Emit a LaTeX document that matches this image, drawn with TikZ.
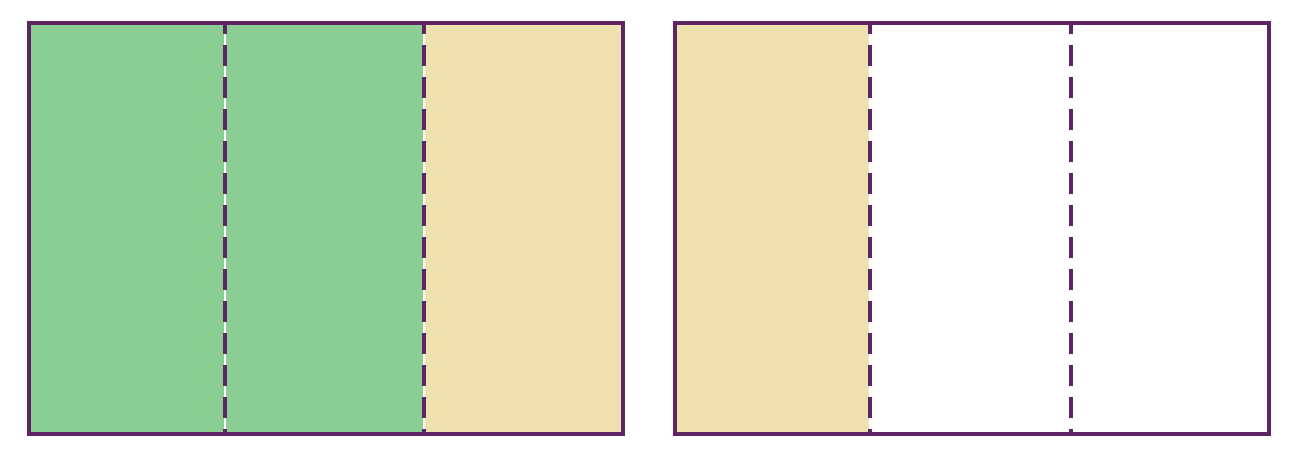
\documentclass[tikz,border=0pt]{standalone}
\usepackage{tikz}
\usetikzlibrary{calc}
\definecolor{partgreen}{HTML}{8BCE94}
\definecolor{parttan}{HTML}{EFE1AE}
\definecolor{framepurple}{HTML}{5E2463}

\begin{document}
\begin{tikzpicture}[
  frame/.style={draw=framepurple, line width=2.3pt},
  cut/.style={draw=framepurple, line width=2.3pt,
              dash pattern=on 0.42cm off 0.22cm, dash phase=0.2cm}
]
\useasboundingbox (0,0) rectangle (25.96,9.18);

% Left bar: two of three parts green
\fill[partgreen] (0.58,0.5) rectangle (4.48,8.72);
\fill[partgreen] (4.52,0.5) rectangle (8.46,8.72);
\fill[parttan] (8.5,0.5) rectangle (12.46,8.72);
\draw[cut] (4.5,8.72) -- (4.5,0.5);
\draw[cut] (8.48,8.72) -- (8.48,0.5);
\draw[frame] (0.58,0.5) rectangle (12.46,8.72);

% Right bar: one of three parts tan
\fill[parttan] (13.5,0.5) rectangle (17.38,8.72);
\draw[cut] (17.4,8.72) -- (17.4,0.5);
\draw[cut] (21.42,8.72) -- (21.42,0.5);
\draw[frame] (13.5,0.5) rectangle (25.38,8.72);

\end{tikzpicture}
\end{document}
